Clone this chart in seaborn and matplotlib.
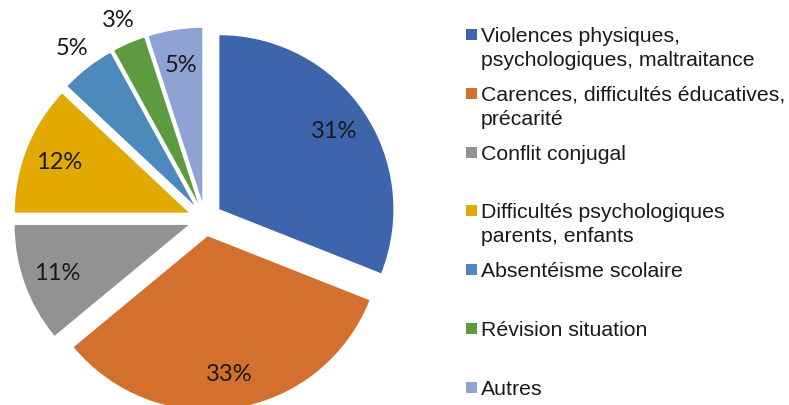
import matplotlib
matplotlib.use("Agg")
import matplotlib.pyplot as plt
import seaborn as sns
import numpy as np

# Data
categories = [
    "Violences physiques,\npsychologiques, maltraitance",
    "Carences, difficultés éducatives,\nprécarité",
    "Conflit conjugal",
    "Difficultés psychologiques\nparents, enfants",
    "Absentéisme scolaire",
    "Révision situation",
    "Autres",
]
shares = [31, 33, 11, 12, 5, 3, 5]
colors = ["#3E64AC", "#D3702D", "#929292", "#E2AA00", "#4E89BD", "#5E9A3F", "#8EA3D4"]
label_outside = [False, False, False, False, True, True, False]

sns.set_theme(style="white")
plt.rcParams["font.family"] = ["Liberation Sans", "DejaVu Sans"]

# figure in pixel units, y up
W, H = 789, 406
fig = plt.figure(figsize=(W / 100, H / 100), dpi=100)
ax = fig.add_axes([0, 0, 1, 1])
palette = sns.color_palette(colors)

radius = 174
wedges, _ = ax.pie(shares, colors=palette, startangle=90, counterclock=False,
                   explode=[0.1 * radius] * len(shares), center=(205, H - 220),
                   radius=radius, wedgeprops=dict(linewidth=0))
ax.set_xlim(0, W)
ax.set_ylim(0, H)
ax.set_aspect("equal")
ax.axis("off")

# percentage labels
for w, v, outside in zip(wedges, shares, label_outside):
    mid = np.deg2rad((w.theta1 + w.theta2) / 2)
    dist = 1.15 if outside else 0.8
    x = w.center[0] + dist * w.r * np.cos(mid)
    y = w.center[1] + dist * w.r * np.sin(mid)
    ax.text(x, y, f"{v}%", ha="center", va="center", fontsize=17,
            family=["Lato", "DejaVu Sans"], color="#1a1a1a")

# legend, evenly spaced entries (marker lines up with the first text line)
for i, (lab, col) in enumerate(zip(categories, palette)):
    yc = H - (35.5 + 58.8 * i)
    ax.add_patch(plt.Rectangle((466, yc - 5.5), 11, 11, color=col, lw=0))
    ax.text(481, yc + 8.5, lab, ha="left", va="top", fontsize=15.3,
            linespacing=1.32, color="#1a1a1a")

fig.savefig("out.png", dpi=100)
